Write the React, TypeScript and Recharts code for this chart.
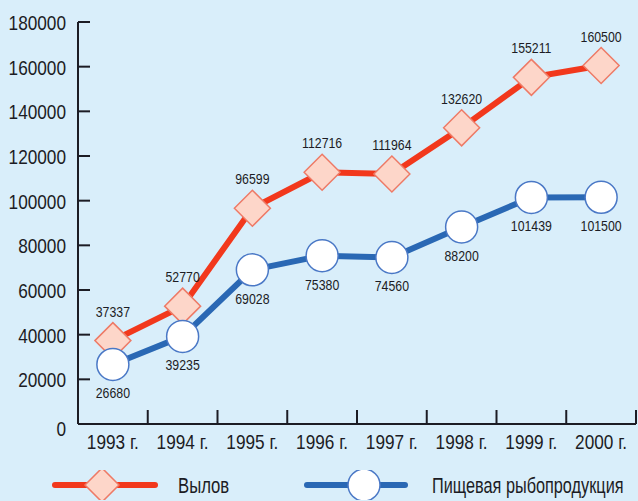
import { LineChart, Line, XAxis, YAxis, Legend, LabelList } from 'recharts';

document.body.style.margin = '0';

const years = ['1993 г.', '1994 г.', '1995 г.', '1996 г.', '1997 г.', '1998 г.', '1999 г.', '2000 г.'];
const catch_ = [37337, 52770, 96599, 112716, 111964, 132620, 155211, 160500];
const foodFish = [26680, 39235, 69028, 75380, 74560, 88200, 101439, 101500];
const yTicks = [0, 20000, 40000, 60000, 80000, 100000, 120000, 140000, 160000, 180000];

const data = years.map((year, i) => ({ year, catch: catch_[i], food: foodFish[i] }));

const W = 638;
const H = 501;
const AXIS_W = 78;
const RIGHT = 2;
const HALF_BAND = (W - AXIS_W - RIGHT) / years.length / 2;

const FONT = '"Liberation Sans", Arial, sans-serif';
const INK = '#1c1c24';
const RED = '#f2381c';
const BLUE = '#2a68b4';
const DIAMOND_FILL = '#fdd6c9';
const DIAMOND_STROKE = '#ee7a66';
const CIRCLE_STROKE = '#4a78c6';

// condensed look: Arial squeezed horizontally
const NarrowText = ({ x, y, size, anchor = 'middle', squeeze = 0.82, children }: any) => (
  <text
    transform={`translate(${x},${y}) scale(${squeeze},1)`}
    textAnchor={anchor} fontFamily={FONT} fontSize={size} fill={INK}
  >
    {children}
  </text>
);

const Diamond = ({ cx, cy, size = 18 }: any) => {
  if (cx == null || cy == null) return null;
  const r = size;
  return (
    <polygon
      points={`${cx},${cy - r} ${cx + r},${cy} ${cx},${cy + r} ${cx - r},${cy}`}
      fill={DIAMOND_FILL} stroke={DIAMOND_STROKE} strokeWidth={1.5}
    />
  );
};

const Circle = ({ cx, cy, size = 16 }: any) => {
  if (cx == null || cy == null) return null;
  return <circle cx={cx} cy={cy} r={size} fill="#ffffff" stroke={CIRCLE_STROKE} strokeWidth={1.5} />;
};

const XTick = ({ x, y, payload }: any) => (
  <g>
    <line x1={x + HALF_BAND} y1={y} x2={x + HALF_BAND} y2={y - 14} stroke={INK} strokeWidth={2} />
    <NarrowText x={x} y={y + 25} size={21}>{payload.value}</NarrowText>
  </g>
);

const YTick = ({ x, y, payload }: any) => (
  <g>
    <line x1={x + 12} y1={y} x2={x + 24} y2={y} stroke={INK} strokeWidth={2} />
    <NarrowText x={x} y={y + (payload.value === 0 ? 12 : 8)} size={21} anchor="end">
      {payload.value}
    </NarrowText>
  </g>
);

const makeLabel = (dy: number) => ({ x, y, value }: any) => (
  <NarrowText x={x} y={y + dy} size={14} squeeze={0.88}>{value}</NarrowText>
);

const LegendContent = () => (
  <svg width={W} height={30}>
    <line x1={55} y1={15} x2={155} y2={15} stroke={RED} strokeWidth={6} strokeLinecap="round" />
    <Diamond cx={102} cy={15} size={17} />
    <NarrowText x={178} y={23} size={22} anchor="start" squeeze={0.76}>Вылов</NarrowText>
    <line x1={307} y1={15} x2={405} y2={15} stroke={BLUE} strokeWidth={6} strokeLinecap="round" />
    <Circle cx={364} cy={15} size={16} />
    <NarrowText x={432} y={23} size={22} anchor="start" squeeze={0.74}>Пищевая рыбопродукция</NarrowText>
  </svg>
);

export default function App() {
  return (
    <div style={{ width: W, height: H, background: '#d9eefa', position: 'relative' }}>
      <LineChart width={W} height={H} data={data} margin={{ top: 22, right: RIGHT, left: 0, bottom: 47 }}>
        <XAxis
          dataKey="year" scale="band" height={30} tickSize={0} tickMargin={0} interval={0}
          axisLine={{ stroke: INK, strokeWidth: 2 }} tick={<XTick />}
        />
        <YAxis
          width={AXIS_W} domain={[0, 180000]} ticks={yTicks} tickSize={0} tickMargin={12}
          axisLine={{ stroke: INK, strokeWidth: 2 }} tick={<YTick />} interval={0}
        />
        <Legend
          layout="horizontal" verticalAlign="middle" align="center"
          wrapperStyle={{ top: 470, left: 0, width: W }} content={<LegendContent />}
        />
        <Line
          dataKey="catch" name="Вылов" stroke={RED} strokeWidth={6}
          dot={<Diamond />} activeDot={false} isAnimationActive={false}
        >
          <LabelList dataKey="catch" content={makeLabel(-24)} />
        </Line>
        <Line
          dataKey="food" name="Пищевая рыбопродукция" stroke={BLUE} strokeWidth={6}
          dot={<Circle />} activeDot={false} isAnimationActive={false}
        >
          <LabelList dataKey="food" content={makeLabel(34)} />
        </Line>
      </LineChart>
    </div>
  );
}
